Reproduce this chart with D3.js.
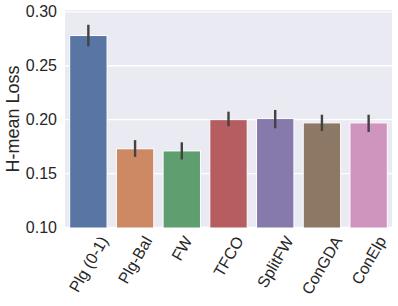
<!DOCTYPE html>
<html><head><meta charset="utf-8">
<script src="https://cdn.jsdelivr.net/npm/d3@7"></script>
<style>body{margin:0;background:#fff}svg{display:block}text{font-family:"Liberation Sans",Arial,sans-serif;fill:#262626}</style>
</head><body><svg id="c" width="398" height="306"></svg>
<script>
const categories = ["Plg (0-1)","Plg-Bal","FW","TFCO","SplitFW","ConGDA","ConElp"];
const values = [0.278,0.173,0.171,0.200,0.201,0.197,0.197];
const errLow = [0.268,0.1655,0.163,0.194,0.192,0.1895,0.1886];
const errHigh = [0.288,0.181,0.179,0.2074,0.209,0.2046,0.2046];
const colors = ["#5975a4","#cc8963","#5f9e6e","#b55d60","#857aab","#8d7866","#d095bf"];
const yTicks = [0.10,0.15,0.20,0.25,0.30];

const svg = d3.select("#c");
const m = {l:65, r:6, t:10, b:78};
const W = 398, H = 306;
const x = d3.scaleBand().domain(categories).range([m.l, W-m.r]).paddingInner(0.2).paddingOuter(0.1);
const y = d3.scaleLinear().domain([0.0995,0.3017]).range([H-m.b, m.t]);

svg.append("rect").attr("x",m.l).attr("y",m.t).attr("width",W-m.r-m.l).attr("height",H-m.b-m.t).attr("fill","#eaeaf2");
svg.append("g").selectAll("line").data(yTicks).join("line")
  .attr("x1",m.l).attr("x2",W-m.r).attr("y1",d=>y(d)).attr("y2",d=>y(d))
  .attr("stroke","#fff").attr("stroke-width",1.3);

const base = y.domain()[0];
svg.append("g").selectAll("rect").data(categories).join("rect")
  .attr("x",d=>x(d)).attr("width",x.bandwidth())
  .attr("y",(d,i)=>y(values[i])).attr("height",(d,i)=>y(base)-y(values[i]))
  .attr("fill",(d,i)=>colors[i]).attr("stroke","#fff").attr("stroke-width",1);

svg.append("g").selectAll("line").data(categories).join("line")
  .attr("x1",d=>x(d)+x.bandwidth()/2).attr("x2",d=>x(d)+x.bandwidth()/2)
  .attr("y1",(d,i)=>y(errLow[i])).attr("y2",(d,i)=>y(errHigh[i]))
  .attr("stroke","#424242").attr("stroke-width",2.4);

const yAxis = d3.axisLeft(y).tickValues(yTicks).tickFormat(d3.format(".2f")).tickSize(0).tickPadding(8);
const gy = svg.append("g").attr("transform",`translate(${m.l},0)`).call(yAxis);
gy.select(".domain").remove();
gy.selectAll("text").style("font-size","16px").attr("fill","#262626");

const xAxis = d3.axisBottom(x).tickSize(0).tickFormat("");
const gx = svg.append("g").attr("transform",`translate(0,${H-m.b})`).call(xAxis);
gx.select(".domain").remove();

const fs = 16, ang = 60, rad = ang*Math.PI/180;
const lbl = svg.append("g");
categories.forEach(c=>{
  const t = lbl.append("text").text(c).style("font-size",fs+"px")
    .attr("text-anchor","middle").attr("dy","0.35em");
  const w = t.node().getComputedTextLength();
  const lh = fs*1.15;
  const bh = w*Math.sin(rad) + lh*Math.cos(rad);
  const cx = x(c)+x.bandwidth()/2;
  const cy = (H-m.b) + 5 + bh/2;
  t.attr("transform",`translate(${cx},${cy}) rotate(${-ang})`);
});

svg.append("text").text("H-mean Loss").style("font-size","18px")
  .attr("text-anchor","middle")
  .attr("transform",`translate(19,${(m.t+H-m.b)/2}) rotate(-90)`);
</script></body></html>
